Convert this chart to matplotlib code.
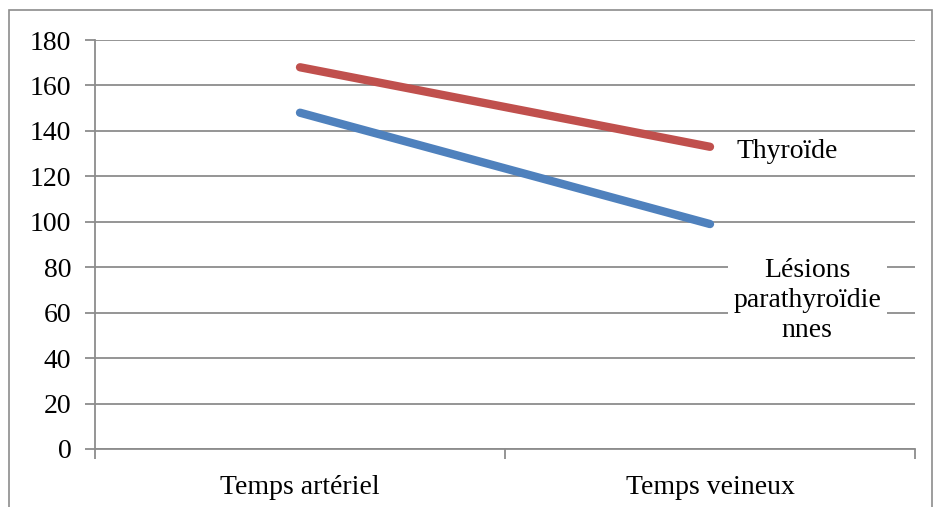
import matplotlib
matplotlib.use("Agg")
import matplotlib.pyplot as plt
from matplotlib.patches import Rectangle

categories = ["Temps artériel", "Temps veineux"]
thyroide = [168, 133]
lesions = [148, 99]
yticks = [0, 20, 40, 60, 80, 100, 120, 140, 160, 180]
label_thyroide = "Thyroïde"
label_lesions = "Lésions\nparathyroïdie\nnnes"

plt.rcParams['font.family'] = ['Liberation Serif', 'DejaVu Serif']

W, H = 934, 507
fig = plt.figure(figsize=(W/100, H/100), dpi=100)
ax = fig.add_axes([95/W, 1-449/H, (915-95)/W, (449-40)/H])

fig.patches.append(Rectangle((9/W, -0.05), (932-9)/W, (1-10/H)+0.05, transform=fig.transFigure,
                             fill=False, edgecolor='#8c8c8c', linewidth=1.2))

grid_c = '#8c8c8c'
fs = 20
x = [0.5, 1.5]
ax.set_xlim(0, 2)
ax.set_ylim(0, 180)
ax.set_yticks(yticks)
ax.yaxis.grid(True, color=grid_c, linewidth=1.3)
ax.set_axisbelow(True)
for s in ['top', 'right']:
    ax.spines[s].set_visible(False)
for s in ['left', 'bottom']:
    ax.spines[s].set_color(grid_c)
    ax.spines[s].set_linewidth(1.3)

ax.set_xticks([0, 1, 2])
ax.set_xticklabels([])
ax.set_xticks(x, minor=True)
ax.set_xticklabels(categories, minor=True)
ax.tick_params(axis='x', which='major', length=7, color=grid_c, width=1.3)
ax.tick_params(axis='x', which='minor', length=0, labelsize=fs, pad=19)
ax.tick_params(axis='y', length=7, color=grid_c, width=1.3, labelsize=fs, pad=10)

ax.plot(x, thyroide, color='#c0504d', linewidth=6, solid_capstyle='round')
ax.plot(x, lesions, color='#4f81bd', linewidth=6, solid_capstyle='round')

ax.text(1.565, 131.0, label_thyroide, fontsize=fs, ha='left', va='center',
        bbox=dict(facecolor='white', edgecolor='none', pad=1))
ax.text(1.737, 65.5, label_lesions, fontsize=fs, ha='center', va='center', linespacing=1.27,
        bbox=dict(facecolor='white', edgecolor='none', pad=4))

fig.savefig("out.png", dpi=100)
